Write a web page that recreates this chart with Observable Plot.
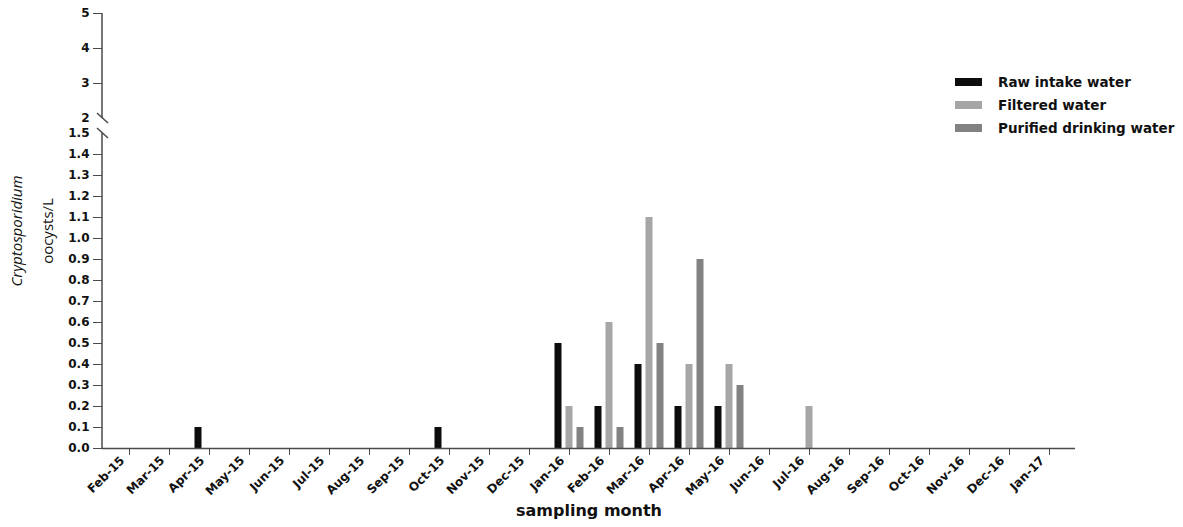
<!DOCTYPE html>
<html>
<head>
<meta charset="utf-8">
<script src="https://cdn.jsdelivr.net/npm/d3@7"></script>
<script src="https://cdn.jsdelivr.net/npm/@observablehq/plot@0.6"></script>
<style>
  html, body { margin: 0; padding: 0; background: #fff; }
</style>
</head>
<body>
<div id="chart"></div>
<script>
const months = ["Feb-15","Mar-15","Apr-15","May-15","Jun-15","Jul-15","Aug-15","Sep-15","Oct-15","Nov-15","Dec-15",
  "Jan-16","Feb-16","Mar-16","Apr-16","May-16","Jun-16","Jul-16","Aug-16","Sep-16","Oct-16","Nov-16","Dec-16","Jan-17"];
const series = ["Raw intake water", "Filtered water", "Purified drinking water"];
const rawIntake = [0,0,0.1,0,0,0,0,0,0.1,0,0, 0.5,0.2,0.4,0.2,0.2,0,0,0,0,0,0,0,0];
const filtered  = [0,0,0,0,0,0,0,0,0,0,0, 0.2,0.6,1.1,0.4,0.4,0,0.2,0,0,0,0,0,0];
const purified  = [0,0,0,0,0,0,0,0,0,0,0, 0.1,0.1,0.5,0.9,0.3,0,0,0,0,0,0,0,0];
const yTicks = [0.0,0.1,0.2,0.3,0.4,0.5,0.6,0.7,0.8,0.9,1.0,1.1,1.2,1.3,1.4,1.5,2,3,4,5];
const yTickMarks = [0.0,0.1,0.2,0.3,0.4,0.5,0.6,0.7,0.8,0.9,1.0,1.1,1.2,1.3,1.4,3,4,5];
const yBreak = [1.5, 2];
const yDomain = [0, 1.5, 2, 5];
const xTitle = "sampling month";
const yTitle1 = "Cryptosporidium";
const yTitle2 = "oocysts/L";

// styles
const colors = ["#0d0d0d", "#a6a6a6", "#828282"];
const offsets = [-11, 0, 11];
const seriesValues = [rawIntake, filtered, purified];

const rows = series.map((s, i) =>
  months.map((m, j) => ({month: m, series: s, value: seriesValues[i][j]})).filter(d => d.value > 0)
);

const fmt = d => d < 2 ? d3.format(".1f")(d) : d3.format("d")(d);
const axisColor = "#4a4a4a";
const font = "DejaVu Sans";

const plot = Plot.plot({
  width: 1183,
  height: 527,
  marginLeft: 102,
  marginRight: 108,
  marginTop: 13,
  marginBottom: 79,
  style: {fontFamily: font, background: "#fff", color: "#111"},
  x: {domain: months, padding: 0},
  y: {type: "linear", domain: yDomain, range: [448, 133, 118, 13]},
  marks: [
    ...rows.map((r, i) => Plot.barY(r, {
      x: "month", y: "value", fill: colors[i],
      insetLeft: 16.5, insetRight: 16.5, dx: offsets[i]
    })),
    Plot.ruleY([0], {stroke: axisColor, strokeWidth: 1.5}),
    Plot.axisX({tickSize: 7, tickFormat: () => "", stroke: axisColor, label: null}),
    Plot.axisX({tickRotate: -45, tickSize: 0, tickPadding: 10, dx: -7, fontWeight: "bold", fontSize: 12,
      fill: "#111", label: null}),
    Plot.axisY({ticks: yTickMarks, tickSize: 9, tickFormat: () => "", stroke: axisColor, label: null}),
    Plot.axisY({ticks: yTicks, tickSize: 0, tickPadding: 13, tickFormat: fmt, fontWeight: "bold",
      fontSize: 12, fill: "#111", label: null}),
    Plot.text([xTitle], {text: d => d, frameAnchor: "bottom", dy: 67, fontWeight: "bold", fontSize: 16, fill: "#111"}),
    Plot.text([yTitle1], {text: d => d, frameAnchor: "left", textAnchor: "middle", dx: -85, rotate: -90,
      fontStyle: "italic", fontSize: 15, fontFamily: "Open Sans", fill: "#111"}),
    Plot.text([yTitle2], {text: d => d, frameAnchor: "left", textAnchor: "middle", dx: -54, rotate: -90,
      fontSize: 15, fontFamily: "Open Sans", fill: "#111"})
  ]
});

// broken y-axis line and break marks, placed through the plot's y scale
const y = plot.scale("y");
const x0 = 102;
const svg = d3.select(plot);
const g = svg.append("g").attr("stroke", axisColor).attr("stroke-width", 1.5);
g.append("line").attr("x1", x0).attr("x2", x0).attr("y1", y.apply(yDomain[3])).attr("y2", y.apply(yBreak[1]));
g.append("line").attr("x1", x0).attr("x2", x0).attr("y1", y.apply(yBreak[0])).attr("y2", y.apply(yDomain[0]) + 0.75);
for (const b of yBreak) {
  const yy = y.apply(b);
  g.append("line").attr("x1", x0 - 5).attr("x2", x0 + 6).attr("y1", yy - 5).attr("y2", yy + 5);
}

// legend
const lg = svg.append("g").attr("font-family", font).attr("font-weight", "bold").attr("font-size", 13.5)
  .attr("text-anchor", "start");
series.forEach((s, i) => {
  const cy = 82 + i * 23;
  lg.append("rect").attr("x", 955).attr("y", cy - 4).attr("width", 27).attr("height", 8).attr("fill", colors[i]);
  lg.append("text").attr("x", 998).attr("y", cy).attr("dy", "0.35em").attr("fill", "#111").text(s);
});

document.getElementById("chart").appendChild(plot);
</script>
</body>
</html>
